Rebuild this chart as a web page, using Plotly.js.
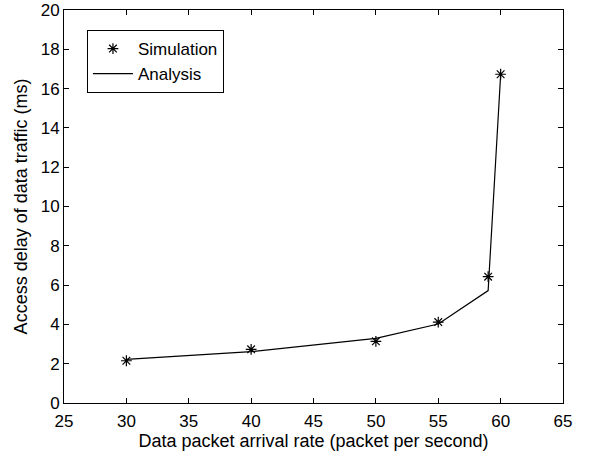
<!DOCTYPE html>
<html>
<head>
<meta charset="utf-8">
<script src="https://cdn.plot.ly/plotly-3.0.1.min.js"></script>
<style>html,body{margin:0;padding:0;background:#fff;}#chart{width:597px;height:454px;}</style>
</head>
<body>
<div id="chart"></div>
<script>
const rates = [30, 40, 50, 55, 59, 60];
const simulationDelay = [2.15, 2.73, 3.14, 4.12, 6.43, 16.73];
const analysisDelay = [2.22, 2.61, 3.29, 4.02, 5.72, 16.69];
const xTicks = [25, 30, 35, 40, 45, 50, 55, 60, 65];
const yTicks = [0, 2, 4, 6, 8, 10, 12, 14, 16, 18, 20];

const fam = 'Liberation Sans, Arial, Helvetica, sans-serif';
const tickFont = {family: fam, size: 17, color: '#000'};
const labelFont = {family: fam, size: 18, color: '#000'};
const legendFont = {family: fam, size: 17, color: '#000'};

const traces = [
  {x: rates, y: simulationDelay, mode: 'markers', name: 'Simulation',
   marker: {symbol: 'asterisk-open', size: 9, color: '#000', line: {color: '#000', width: 1.2}}},
  {x: rates, y: analysisDelay, mode: 'lines', name: 'Analysis',
   line: {color: '#000', width: 1.2}}
];

const axisCommon = {
  showgrid: false, zeroline: false, showline: true, linecolor: '#000', linewidth: 1,
  mirror: 'ticks', ticks: 'inside', ticklen: 5, tickcolor: '#000', tickwidth: 1,
  tickfont: tickFont, tickmode: 'array'
};

const layout = {
  width: 597, height: 454,
  margin: {l: 64, r: 34, t: 10, b: 51},
  paper_bgcolor: '#fff', plot_bgcolor: '#fff',
  font: labelFont,
  showlegend: true,
  legend: {x: 0.046, y: 0.949, xanchor: 'left', yanchor: 'top',
    bgcolor: '#fff', bordercolor: '#000', borderwidth: 1, font: legendFont,
    itemwidth: 40, tracegroupgap: 0},
  xaxis: Object.assign({}, axisCommon, {range: [25, 65], tickvals: xTicks, ticktext: xTicks.map(String),
    ticklabelstandoff: 3,
    title: {text: 'Data packet arrival rate (packet per second)', font: labelFont, standoff: 0}}),
  yaxis: Object.assign({}, axisCommon, {range: [0, 20], tickvals: yTicks, ticktext: yTicks.map(String),
    title: {text: 'Access delay of data traffic (ms)', font: labelFont, standoff: 8}})
};

Plotly.newPlot('chart', traces, layout, {displayModeBar: false, staticPlot: true});
</script>
</body>
</html>
